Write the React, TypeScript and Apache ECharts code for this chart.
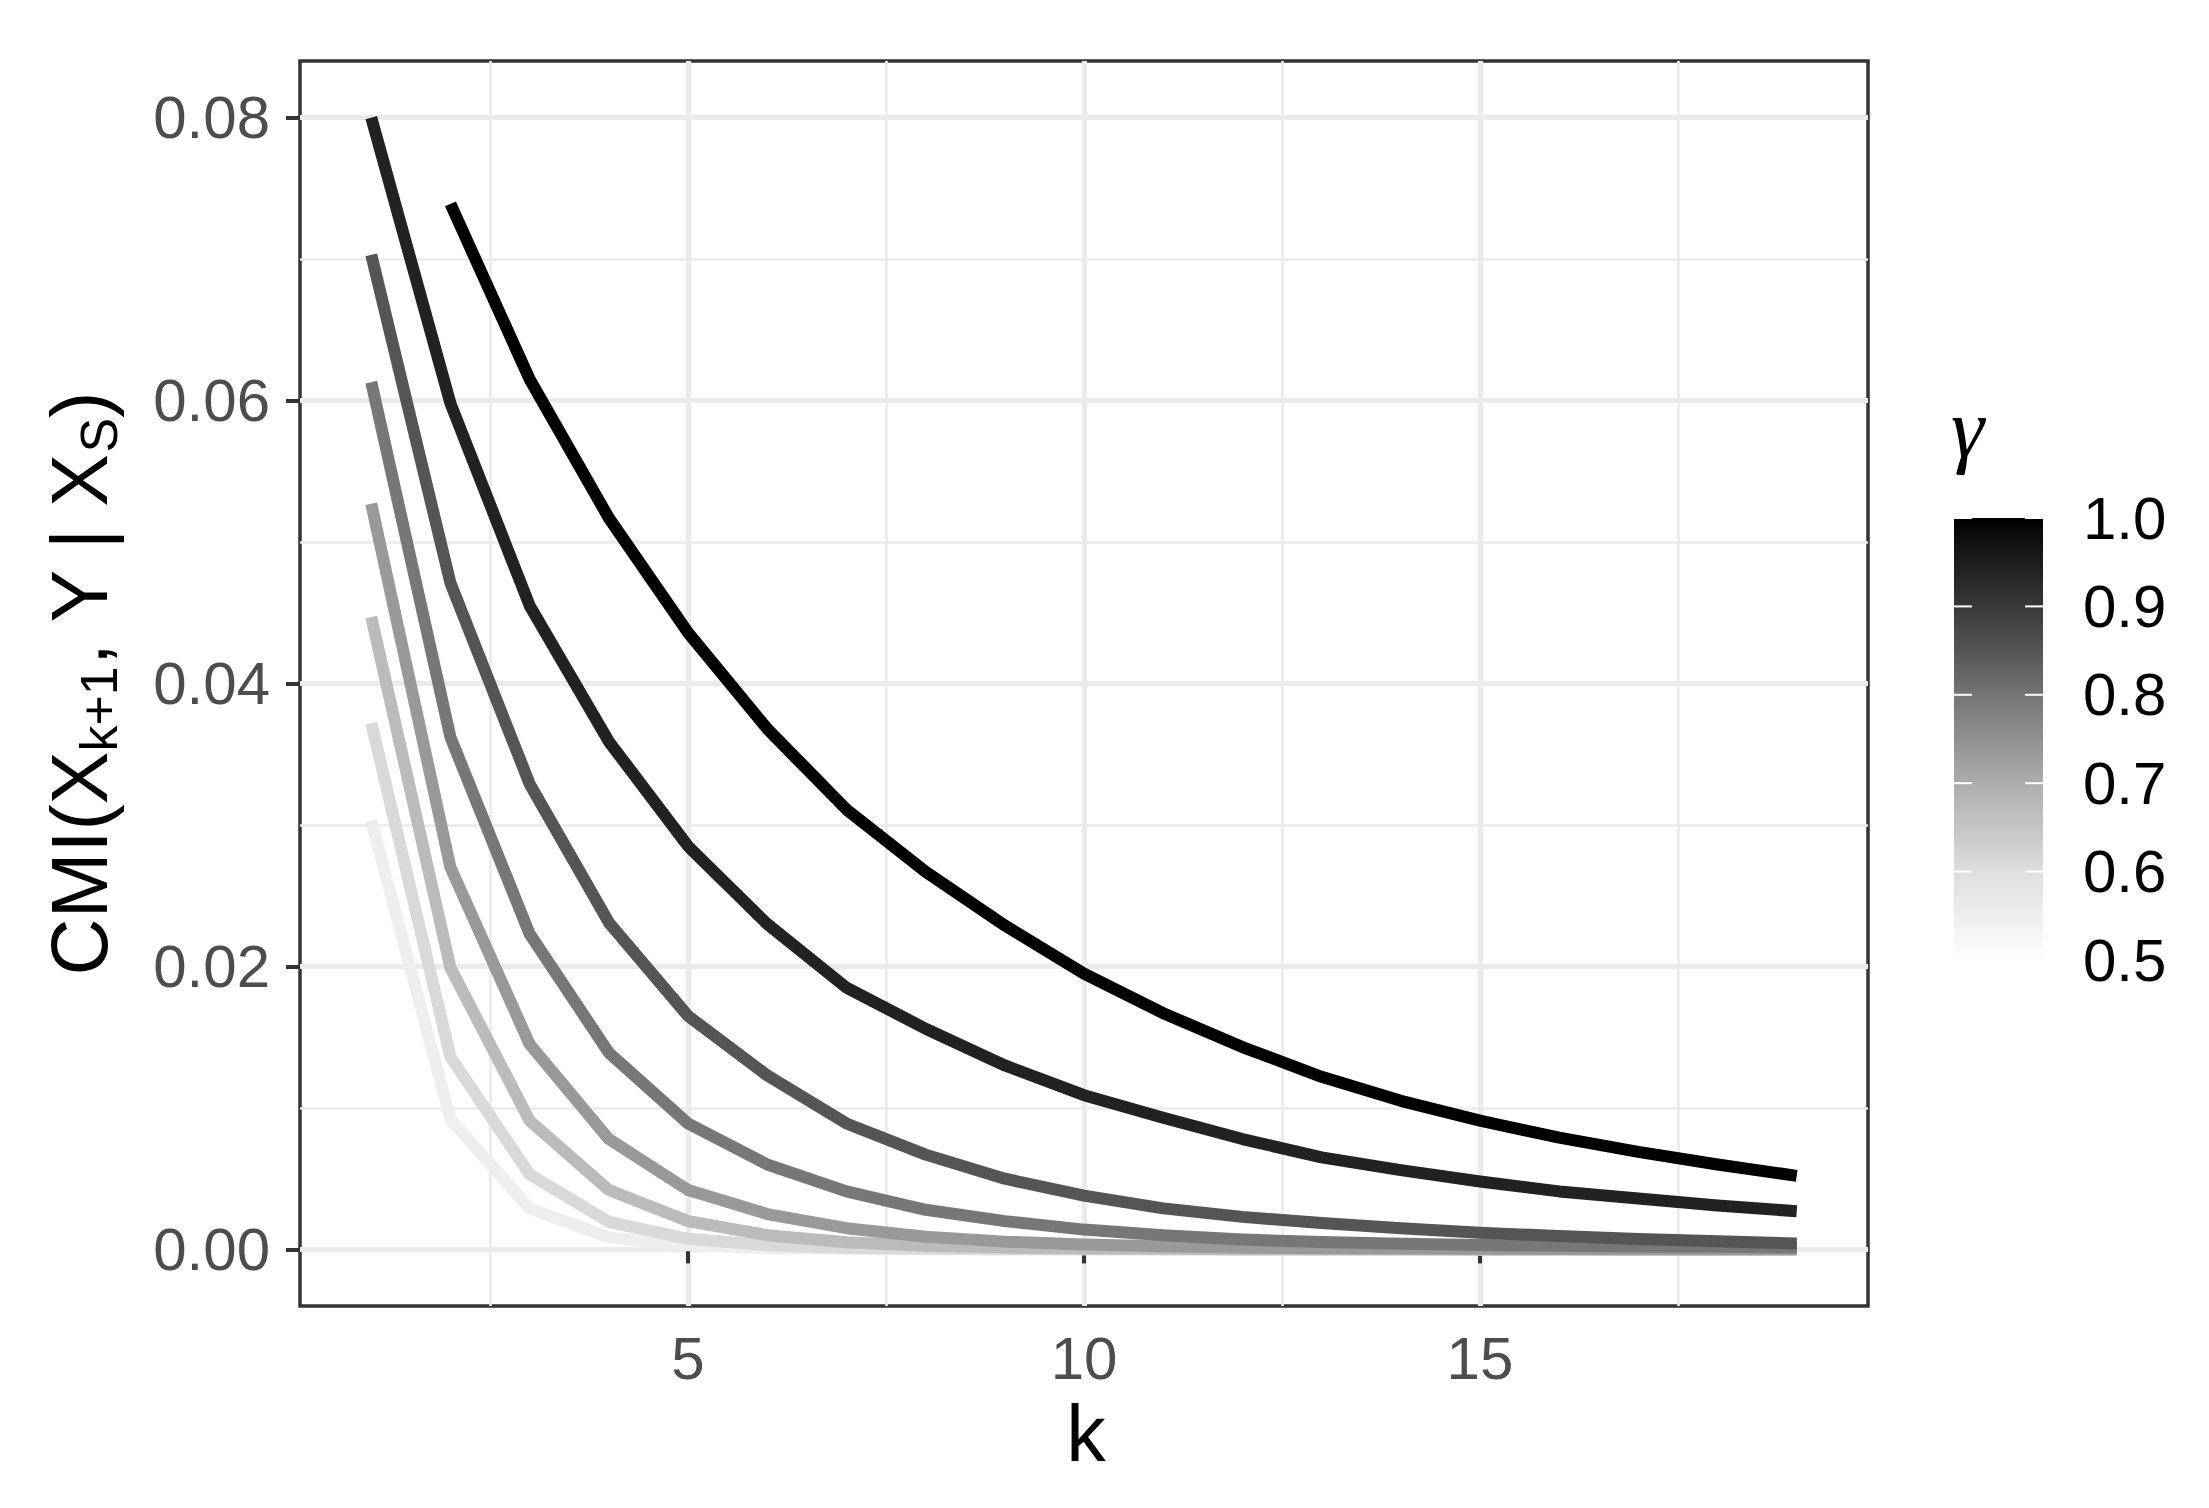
import React, { useEffect, useRef } from "react";
import * as echarts from "echarts";

// ---------- data ----------
const kValues = [1, 2, 3, 4, 5, 6, 7, 8, 9, 10, 11, 12, 13, 14, 15, 16, 17, 18, 19];

const seriesNames = ["γ=0.55", "γ=0.60", "γ=0.65", "γ=0.70", "γ=0.75", "γ=0.80", "γ=0.90", "γ=1.00"];

const cmiG055 = [0.0303, 0.0092, 0.0029, 0.00085, 0.0003, 0.0001, 0.00004, 0.00002, 0.00001, 0.000005, 0, 0, 0, 0, 0, 0, 0, 0, 0];
const cmiG060 = [0.0372, 0.0136, 0.0053, 0.00195, 0.00075, 0.0003, 0.00012, 0.00005, 0.00002, 0.00001, 0.000005, 0, 0, 0, 0, 0, 0, 0, 0];
const cmiG065 = [0.0447, 0.0199, 0.0091, 0.0042, 0.002, 0.001, 0.0005, 0.00025, 0.00013, 0.00007, 0.00004, 0.00002, 0.00001, 0.000005, 0, 0, 0, 0, 0];
const cmiG070 = [0.0527, 0.027, 0.0145, 0.0078, 0.0042, 0.0025, 0.0015, 0.0009, 0.00055, 0.00035, 0.00022, 0.00014, 0.00009, 0.00006, 0.00004, 0.00003, 0.00002, 0.00001, 0.00001];
const cmiG075 = [0.0613, 0.0362, 0.0223, 0.0139, 0.0089, 0.006, 0.0041, 0.0028, 0.002, 0.0014, 0.001, 0.0007, 0.00052, 0.0004, 0.00032, 0.00026, 0.00021, 0.00018, 0.00015];
const cmiG080 = [0.0703, 0.0471, 0.0329, 0.0231, 0.0165, 0.0123, 0.0089, 0.0067, 0.005, 0.0038, 0.0029, 0.0023, 0.00186, 0.0015, 0.00118, 0.00094, 0.00073, 0.00058, 0.00042];
const cmiG090 = [0.08, 0.0598, 0.0455, 0.0359, 0.0285, 0.023, 0.0185, 0.0156, 0.013, 0.0109, 0.0093, 0.0078, 0.0065, 0.0056, 0.0048, 0.0041, 0.0036, 0.0031, 0.0027];
const cmiG100 = [null, 0.0739, 0.0615, 0.0517, 0.0436, 0.0368, 0.0311, 0.0267, 0.0229, 0.0195, 0.0167, 0.0143, 0.0122, 0.0105, 0.0091, 0.0079, 0.0069, 0.006, 0.0052];

const allSeries = [cmiG055, cmiG060, cmiG065, cmiG070, cmiG075, cmiG080, cmiG090, cmiG100];

const xMajorTicks = [5, 10, 15];
const xMinorTicks = [2.5, 7.5, 12.5, 17.5];
const yMajorTicks = [0, 0.02, 0.04, 0.06, 0.08];
const yMinorTicks = [0.01, 0.03, 0.05, 0.07];

const legendTickValues = [0.5, 0.6, 0.7, 0.8, 0.9, 1.0];
const legendTickLabels = ["0.5", "0.6", "0.7", "0.8", "0.9", "1.0"];

// ---------- styles ----------
const lineColors = ["#eeeeee", "#d9d9d9", "#bbbbbb", "#999999", "#777777", "#555555", "#222222", "#000000"];
const SANS = "'Liberation Sans', Arial, Helvetica, sans-serif";
const SERIF = "'Liberation Serif', 'Times New Roman', serif";

const W = 2209;
const H = 1508;
const GRID = { left: 300, top: 61, right: 1868, bottom: 1306 };
const BAR = { x: 1954, y: 518, w: 89, h: 442 };

export default function App() {
  const ref = useRef<HTMLDivElement>(null);

  useEffect(() => {
    document.body.style.margin = "0";
    if (!ref.current) return;
    const chart = echarts.init(ref.current, null, { renderer: "svg" });

    const series = allSeries.map((arr, idx) => ({
      type: "line",
      name: seriesNames[idx],
      xAxisIndex: 0,
      yAxisIndex: 0,
      data: kValues
        .map((k, i) => [k, arr[i]])
        .filter((p) => p[1] !== null),
      symbol: "none",
      showSymbol: false,
      smooth: false,
      z: 3,
      lineStyle: { color: lineColors[idx], width: 12, cap: "butt", join: "round" },
      emphasis: { disabled: true },
    }));

    const legendGraphics: any[] = [];
    legendGraphics.push({
      type: "rect",
      shape: { x: BAR.x, y: BAR.y, width: BAR.w, height: BAR.h },
      style: {
        fill: {
          type: "linear",
          x: 0,
          y: 0,
          x2: 0,
          y2: 1,
          colorStops: [
            { offset: 0, color: "#000000" },
            { offset: 0.2, color: "#383838" },
            { offset: 0.4, color: "#747474" },
            { offset: 0.6, color: "#adadad" },
            { offset: 0.8, color: "#dedede" },
            { offset: 1, color: "#fefefe" },
          ],
        },
      },
    });
    legendTickValues.forEach((v, i) => {
      const y = BAR.y + ((1.0 - v) / 0.5) * BAR.h;
      legendGraphics.push({
        type: "line",
        shape: { x1: BAR.x, y1: y, x2: BAR.x + 18, y2: y },
        style: { stroke: "#ffffff", lineWidth: 2 },
      });
      legendGraphics.push({
        type: "line",
        shape: { x1: BAR.x + BAR.w - 18, y1: y, x2: BAR.x + BAR.w, y2: y },
        style: { stroke: "#ffffff", lineWidth: 2 },
      });
      legendGraphics.push({
        type: "text",
        x: 2083,
        y: y,
        style: {
          text: legendTickLabels[i],
          fontSize: 60,
          fontFamily: SANS,
          fill: "#000000",
          align: "left",
          verticalAlign: "middle",
        },
      });
    });
    legendGraphics.push({
      type: "text",
      x: 1951,
      y: 428,
      style: {
        text: "γ",
        fontSize: 84,
        fontFamily: SERIF,
        fontStyle: "italic",
        fill: "#000000",
        align: "left",
        verticalAlign: "middle",
      },
    });

    const option: any = {
      animation: false,
      backgroundColor: "#ffffff",
      grid: {
        left: GRID.left,
        top: GRID.top,
        width: GRID.right - GRID.left,
        height: GRID.bottom - GRID.top,
        show: true,
        borderColor: "#333333",
        borderWidth: 3.5,
        backgroundColor: "transparent",
        containLabel: false,
        outerBoundsMode: "none",
      },
      xAxis: [
        {
          type: "value",
          min: 0.1,
          max: 19.9,
          axisLine: { show: false },
          axisTick: {
            show: true,
            customValues: xMajorTicks,
            length: 14,
            lineStyle: { color: "#333333", width: 4 },
          },
          axisLabel: {
            show: true,
            customValues: xMajorTicks,
            color: "#4d4d4d",
            fontSize: 60,
            fontFamily: SANS,
            margin: 22,
            formatter: (v: number) => String(v),
          },
          splitLine: { show: true, lineStyle: { color: "#ebebeb", width: 5.2 } },
          minorTick: { show: false },
          minorSplitLine: { show: false },
        },
        {
          type: "value",
          min: 0.1,
          max: 19.9,
          position: "bottom",
          axisLine: { show: false },
          axisTick: { show: false, customValues: xMinorTicks },
          axisLabel: { show: false, customValues: xMinorTicks },
          splitLine: { show: true, lineStyle: { color: "#ebebeb", width: 2.7 } },
        },
      ],
      yAxis: [
        {
          type: "value",
          min: -0.004,
          max: 0.084,
          axisLine: { show: false },
          axisTick: {
            show: true,
            customValues: yMajorTicks,
            length: 14,
            lineStyle: { color: "#333333", width: 4 },
          },
          axisLabel: {
            show: true,
            customValues: yMajorTicks,
            color: "#4d4d4d",
            fontSize: 60,
            fontFamily: SANS,
            margin: 30,
            formatter: (v: number) => v.toFixed(2),
          },
          splitLine: { show: true, lineStyle: { color: "#ebebeb", width: 5.2 } },
          minorTick: { show: false },
          minorSplitLine: { show: false },
        },
        {
          type: "value",
          min: -0.004,
          max: 0.084,
          position: "left",
          axisLine: { show: false },
          axisTick: { show: false, customValues: yMinorTicks },
          axisLabel: { show: false, customValues: yMinorTicks },
          splitLine: { show: true, lineStyle: { color: "#ebebeb", width: 2.7 } },
        },
      ],
      series,
      graphic: [
        {
          type: "text",
          x: 1086,
          y: 1433,
          style: {
            text: "k",
            fontSize: 79,
            fontFamily: SANS,
            fill: "#000000",
            align: "center",
            verticalAlign: "middle",
          },
        },
        {
          type: "text",
          x: 79,
          y: 683.5,
          rotation: Math.PI / 2,
          style: {
            text: "{b|CMI(X}{s|k+1}{b|, Y | X}{s|S}{b|)}",
            align: "center",
            verticalAlign: "middle",
            fill: "#000000",
            rich: {
              b: { fontSize: 79, fontFamily: SANS, fill: "#000000", lineHeight: 80 },
              s: { fontSize: 52, fontFamily: SANS, fill: "#000000", lineHeight: 40, padding: [40, 0, 0, 0] },
            },
          },
        },
        ...legendGraphics,
      ],
    };

    chart.setOption(option);
    return () => {
      chart.dispose();
    };
  }, []);

  return <div ref={ref} style={{ width: W + "px", height: H + "px" }} />;
}
